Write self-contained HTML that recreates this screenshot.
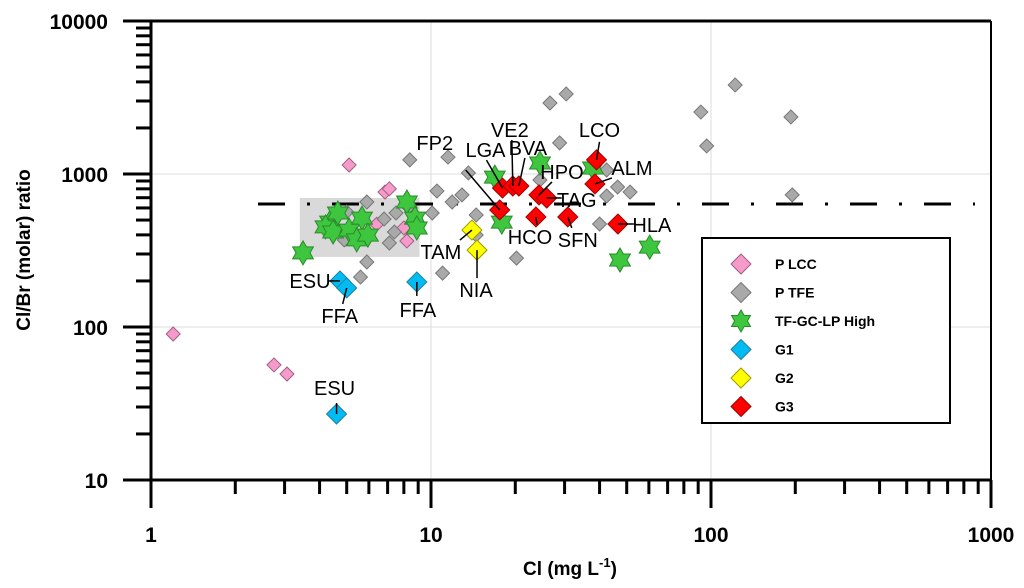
<!DOCTYPE html>
<html><head><meta charset="utf-8"><style>
html,body{margin:0;padding:0;background:#fff;width:1024px;height:588px;overflow:hidden}
svg text{font-family:"Liberation Sans",Arial,sans-serif}
</style></head><body>
<svg id="chart" width="1024" height="588" viewBox="0 0 1024 588">
<g id="grid"></g>
<rect id="shade" fill="#d9d9d9"></rect>
<line id="refline" stroke="#000" stroke-width="3" stroke-dasharray="27,22,3,22"></line>
<g id="marks"></g>
<g id="annots"></g>
<g id="axes"></g>
<g id="legend"></g>
<text x="30" y="250" transform="rotate(-90 30 250)" text-anchor="middle" font-weight="bold" font-size="19">Cl/Br (molar) ratio</text>
<text x="570" y="575" text-anchor="middle" font-weight="bold" font-size="19">Cl (mg L<tspan dy="-8" font-size="13">-1</tspan><tspan dy="8">)</tspan></text>
</svg>
<script>
// ---- data ----
const xTicks = [1, 10, 100, 1000];
const yTicks = [10, 100, 1000, 10000];
const refValue = 637;
const shadeX = [3.4, 9.1];
const shadeY = [287, 697];
const seriesNames = ["P LCC", "P TFE", "TF-GC-LP High", "G1", "G2", "G3"];
const pLccX = [1.2, 2.75, 3.06, 5.1, 6.85, 7.1, 6.4, 8.0, 8.2];
const pLccY = [90, 56.5, 49.3, 1145, 762, 800, 470, 444, 365];
const pTfeX = [8.4, 11.5, 13.6, 10.5, 12.9, 5.9, 8.3, 5.0, 6.8, 7.5, 10.1, 11.9, 4.9, 7.1, 7.4, 5.9, 5.6, 11.0, 26.6, 30.4, 28.8, 14.5, 14.5, 20.2, 24.5, 42.4, 46.4, 51.4, 42.4, 40, 122, 92, 193, 96.5, 195];
const pTfeY = [1237, 1290, 1016, 774, 730, 656, 608, 565, 508, 556, 556, 656, 371, 354, 418, 266, 212, 225, 2911, 3336, 1597, 540, 399, 282, 914, 1062, 822, 762, 718, 471, 3820, 2540, 2360, 1525, 730];
const tfX = [3.49, 4.36, 4.2, 4.47, 4.65, 5.1, 5.67, 5.43, 5.95, 8.2, 8.77, 8.9, 16.9, 24.5, 17.9, 37.9, 60.4, 47.3];
const tfY = [305, 485, 451, 418, 556, 430, 515, 371, 399, 656, 515, 444, 955, 1180, 485, 1094, 333, 274];
const g1X = [4.73, 5.0, 8.9, 4.6];
const g1Y = [200, 180, 197, 27];
const g2X = [14.0, 14.6];
const g2Y = [430, 318];
const g3X = [17.6, 18.0, 19.6, 20.6, 24.3, 25.9, 23.7, 30.8, 39.0, 38.5, 46.5];
const g3Y = [582, 809, 835, 835, 730, 697, 524, 524, 1237, 861, 471];
const g1Labels = ["ESU", "FFA", "FFA", "ESU"];
const g2Labels = ["TAM", "NIA"];
const g3Labels = ["FP2", "LGA", "VE2", "BVA", "HPO", "TAG", "HCO", "SFN", "LCO", "ALM", "HLA"];

// ---- scales ----
const X0 = 151, XD = 280, Y0 = 480, YD = 153;
const sx = v => X0 + Math.log10(v) * XD;
const sy = v => Y0 - (Math.log10(v) - 1) * YD;
const NS = "http://www.w3.org/2000/svg";
function mk(tag, attrs, parent) {
  const e = document.createElementNS(NS, tag);
  for (const k in attrs) e.setAttribute(k, attrs[k]);
  parent.appendChild(e); return e;
}
const grid = document.getElementById('grid'), axes = document.getElementById('axes');
const marks = document.getElementById('marks'), annots = document.getElementById('annots');
const legend = document.getElementById('legend');

// grid
xTicks.forEach(t => { const l = mk('line', {x1: sx(t), x2: sx(t), y1: sy(10000), y2: sy(10), stroke: '#dcdcdc', 'stroke-width': 1}, grid);
  
   });
yTicks.forEach(t => { const l = mk('line', {x1: sx(1), x2: sx(1000), y1: sy(t), y2: sy(t), stroke: '#dcdcdc', 'stroke-width': 1}, grid);
  
   });

// shade + ref line
const sh = document.getElementById('shade');
sh.setAttribute('x', sx(shadeX[0])); sh.setAttribute('width', sx(shadeX[1]) - sx(shadeX[0]));
sh.setAttribute('y', sy(shadeY[1])); sh.setAttribute('height', sy(shadeY[0]) - sy(shadeY[1]));
const rl = document.getElementById('refline');
rl.setAttribute('x1', 258); rl.setAttribute('x2', 975);
rl.setAttribute('y1', sy(refValue)); rl.setAttribute('y2', sy(refValue));

// markers
function diamond(cx, cy, r, fill, stroke, parent) {
  return mk('polygon', {points: `${cx},${cy-r} ${cx+r},${cy} ${cx},${cy+r} ${cx-r},${cy}`, fill: fill, stroke: stroke, 'stroke-width': 1}, parent);
}
function star(cx, cy, r, parent) {
  let p = [];
  for (let i = 0; i < 12; i++) { const a = Math.PI / 6 * i - Math.PI / 2; const rr = i % 2 ? r * 0.58 : r; p.push((cx + rr * Math.cos(a)).toFixed(1) + ',' + (cy + rr * Math.sin(a)).toFixed(1)); }
  return mk('polygon', {points: p.join(' '), fill: '#3ec63e', stroke: '#2a8a2a', 'stroke-width': 1}, parent);
}
const styles = [
  {r: 7, fill: '#f59acb', stroke: '#a06080'},
  {r: 7, fill: '#a9a9a9', stroke: '#777'},
  {star: true, r: 12},
  {r: 10, fill: '#00bcf2', stroke: '#2080a0'},
  {r: 10, fill: '#ffff00', stroke: '#999900'},
  {r: 10, fill: '#ff0000', stroke: '#a00000'}
];
const allX = [pLccX, pTfeX, tfX, g1X, g2X, g3X], allY = [pLccY, pTfeY, tfY, g1Y, g2Y, g3Y];
const markNames = ['p-lcc-point', 'p-tfe-point', 'tf-gc-lp-high-point', 'g1-point', 'g2-point', 'g3-point'];
allX.forEach((xs, s) => {
  xs.forEach((xv, i) => {
    const st = styles[s];
    const el = st.star ? star(sx(xv), sy(allY[s][i]), st.r, marks) : diamond(sx(xv), sy(allY[s][i]), st.r, st.fill, st.stroke, marks);
    
    
  });
});

// annotations
const g1Off = [[-30,0,-11,0],[-7,28,-4,16],[1,28,0,14],[-2,-26,0,-11]];
const g2Off = [[-31,22,-12,10],[-1,40,0,28]];
const g3Off = [[-65,-67,-34,-40],[-17,-38,-16,-28],[-3,-56,-1,-46],[9,-38,6,-28],[23,-23,13,-13],[30,2,15,0],[-6,20,1,8],[10,23,4,11],[3,-30,3,-18],[37,-16,17,-6],[34,1,16,0]];
function annotate(xs, ys, labels, offs) {
  xs.forEach((xv, i) => {
    const cx = sx(xv), cy = sy(ys[i]); const o = offs[i];
    const ln = mk('line', {x1: cx + o[2], y1: cy + o[3], x2: cx, y2: cy, stroke: '#000', 'stroke-width': 1.5}, annots);
    
    
    const t = mk('text', {x: cx + o[0], y: cy + o[1] + 7, 'text-anchor': 'middle', 'font-size': 20}, annots);
    t.textContent = labels[i];
    
    
  });
}
annotate(g1X, g1Y, g1Labels, g1Off);
annotate(g2X, g2Y, g2Labels, g2Off);
annotate(g3X, g3Y, g3Labels, g3Off);

// axes
mk('line', {x1: X0, x2: X0, y1: sy(10000) - 1, y2: Y0 + 2, stroke: '#000', 'stroke-width': 3}, axes);
mk('line', {x1: X0 - 2, x2: sx(1000), y1: Y0, y2: Y0, stroke: '#000', 'stroke-width': 3}, axes);
mk('line', {x1: sx(1000), x2: sx(1000), y1: sy(10000), y2: Y0, stroke: '#000', 'stroke-width': 2}, axes);
mk('line', {x1: 123, x2: sx(1000), y1: sy(10000), y2: sy(10000), stroke: '#000', 'stroke-width': 3}, axes);
for (let d = 0; d < 3; d++) for (let m = 1; m <= 10; m++) {
  const v = Math.pow(10, d) * m; if (m === 10 && d < 2) continue;
  const major = m === 1 || m === 10;
  mk('line', {x1: sx(v), x2: sx(v), y1: Y0, y2: Y0 + (major ? 28 : 14), stroke: '#000', 'stroke-width': 3}, axes);
  const yv = Math.pow(10, d + 1) * m;
  mk('line', {x1: X0 - (major ? 28 : 15), x2: X0, y1: sy(yv), y2: sy(yv), stroke: '#000', 'stroke-width': 3}, axes);
}
xTicks.forEach(t => { const e = mk('text', {x: sx(t), y: 542, 'text-anchor': 'middle', 'font-size': 21, 'font-weight': 'bold'}, axes); e.textContent = t;
  
   });
yTicks.forEach(t => { const e = mk('text', {x: 108, y: sy(t) + 8, 'text-anchor': 'end', 'font-size': 21, 'font-weight': 'bold'}, axes); e.textContent = t;
  
   });

// legend
const lb = mk('rect', {x: 702, y: 238, width: 248, height: 185, fill: '#fff', stroke: '#000', 'stroke-width': 2}, legend);


seriesNames.forEach((n, i) => {
  const y = 264 + i * 28.5, st = styles[i];
  const m = st.star ? star(741, y, 11, legend) : diamond(741, y, 10, st.fill, st.stroke, legend);
  
  
  const t = mk('text', {x: 775, y: y + 5, 'font-size': 14, 'font-weight': 'bold'}, legend);
  t.textContent = n;
  
  
});
</script>
</body></html>
